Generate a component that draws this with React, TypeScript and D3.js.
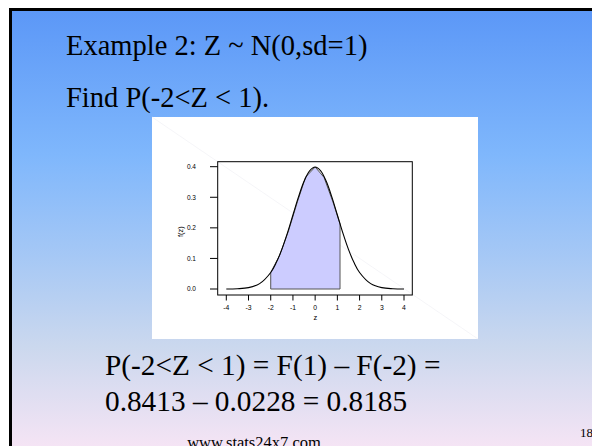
import React from "react";
import * as d3 from "d3";

// Standard normal density, sampled along z
const zValues = [-4, -3.5, -3, -2.5, -2, -1.75, -1.5, -1.25, -1, -0.75, -0.5, -0.25, 0, 0.25, 0.5, 0.75, 1, 1.25, 1.5, 1.75, 2, 2.5, 3, 3.5, 4];
const densityValues = [0.0001, 0.0009, 0.0044, 0.0175, 0.054, 0.0863, 0.1295, 0.1826, 0.242, 0.3011, 0.3521, 0.3867, 0.3989, 0.3867, 0.3521, 0.3011, 0.242, 0.1826, 0.1295, 0.0863, 0.054, 0.0175, 0.0044, 0.0009, 0.0001];

// Shaded region for P(-2 < Z < 1), outlined by a coarse polygon
const shadeZ = [-2, -2, -1.6, -1.2, -0.8, -0.43, 0, 0.4, 0.8, 1.12, 1.12];
const shadeF = [0, 0.054, 0.11, 0.19, 0.285, 0.366, 0.399, 0.365, 0.285, 0.213, 0];

const xTicks = [-4, -3, -2, -1, 0, 1, 2, 3, 4];
const yTicks = [0, 0.1, 0.2, 0.3, 0.4];

const titleLines = ["Example 2: Z ~ N(0,sd=1)", "Find P(-2<Z < 1)."];
const answerLines = ["P(-2<Z < 1) = F(1) \u2013 F(-2) =", "0.8413 \u2013 0.0228 = 0.8185"];
const footer = "www.stats24x7.com";
const pageNumber = "18";

export default function App() {
  const W = 592;
  const H = 446;
  const x = d3.scaleLinear().domain([-4, 4]).range([226.3, 404]);
  const y = d3.scaleLinear().domain([0, 0.4]).range([289, 166.7]);

  const curve = d3
    .line<number>()
    .x((_, i) => x(zValues[i]))
    .y((d) => y(d))
    .curve(d3.curveCatmullRom)(densityValues);

  const shade = d3
    .line<number>()
    .x((_, i) => x(shadeZ[i]))
    .y((d) => y(d))(shadeF) + "Z";

  const box = { x0: 217.7, x1: 412.3, y0: 161.7, y1: 295 };
  const serif = "'Liberation Serif', 'Times New Roman', serif";
  const sans = "'Liberation Sans', Arial, sans-serif";

  return (
    <svg width={W} height={H} style={{ position: "absolute", left: 0, top: 0 }}>
      <defs>
        <linearGradient id="slideBg" x1="0" y1="0" x2="0" y2="1">
          <stop offset="0" stopColor="#5b97f7" />
          <stop offset="0.33" stopColor="#7fb7fc" />
          <stop offset="0.56" stopColor="#a6c8f5" />
          <stop offset="0.76" stopColor="#cbd8ee" />
          <stop offset="1" stopColor="#f8e5f5" />
        </linearGradient>
      </defs>
      <rect x={0} y={0} width={W} height={H} fill="#ffffff" />
      <rect x={9} y={8} width={W} height={H} fill="url(#slideBg)" />
      <rect x={10.5} y={9.5} width={W + 10} height={H + 10} fill="none" stroke="#000" strokeWidth={3} />

      {titleLines.map((t, i) => (
        <text key={t} x={66} y={55 + i * 52} fontFamily={serif} fontSize={28.5} fill="#000">
          {t}
        </text>
      ))}

      {/* white plot panel */}
      <rect x={152} y={117} width={326} height={222} fill="#ffffff" />
      <line x1={152} y1={117} x2={478} y2={339} stroke="#f3f3f6" strokeWidth={0.8} />

      <path d={shade} fill="#ccccff" stroke="#555" strokeWidth={1} />
      <path d={curve ?? ""} fill="none" stroke="#000" strokeWidth={1.1} />

      <rect x={box.x0} y={box.y0} width={box.x1 - box.x0} height={box.y1 - box.y0} fill="none" stroke="#000" strokeWidth={1} />

      {yTicks.map((t) => (
        <g key={t}>
          <line x1={210} x2={box.x0} y1={y(t)} y2={y(t)} stroke="#000" strokeWidth={1} />
          <text x={196} y={y(t) + 2.3} textAnchor="end" fontFamily={sans} fontSize={6.5} fill="#000">
            {t.toFixed(1)}
          </text>
        </g>
      ))}
      {xTicks.map((t) => (
        <g key={t}>
          <line x1={x(t)} x2={x(t)} y1={box.y1} y2={300.5} stroke="#000" strokeWidth={1} />
          <text x={x(t)} y={310} textAnchor="middle" fontFamily={sans} fontSize={6.8} fill="#000">
            {t}
          </text>
        </g>
      ))}
      <text x={315.3} y={319.5} textAnchor="middle" fontFamily={sans} fontSize={7.5} fill="#000">
        z
      </text>
      <text transform="translate(183,231.7) rotate(-90)" textAnchor="middle" fontFamily={sans} fontSize={7.5} fill="#000">
        f(z)
      </text>

      {answerLines.map((t, i) => (
        <text key={t} x={105} y={375 + i * 36} fontFamily={serif} fontSize={29.3} fill="#000">
          {t}
        </text>
      ))}

      <text x={254} y={447.5} textAnchor="middle" fontFamily={serif} fontSize={16.5} fill="#000">
        {footer}
      </text>
      <text x={580} y={437} fontFamily={serif} fontSize={13} fill="#000">
        {pageNumber}
      </text>
    </svg>
  );
}
